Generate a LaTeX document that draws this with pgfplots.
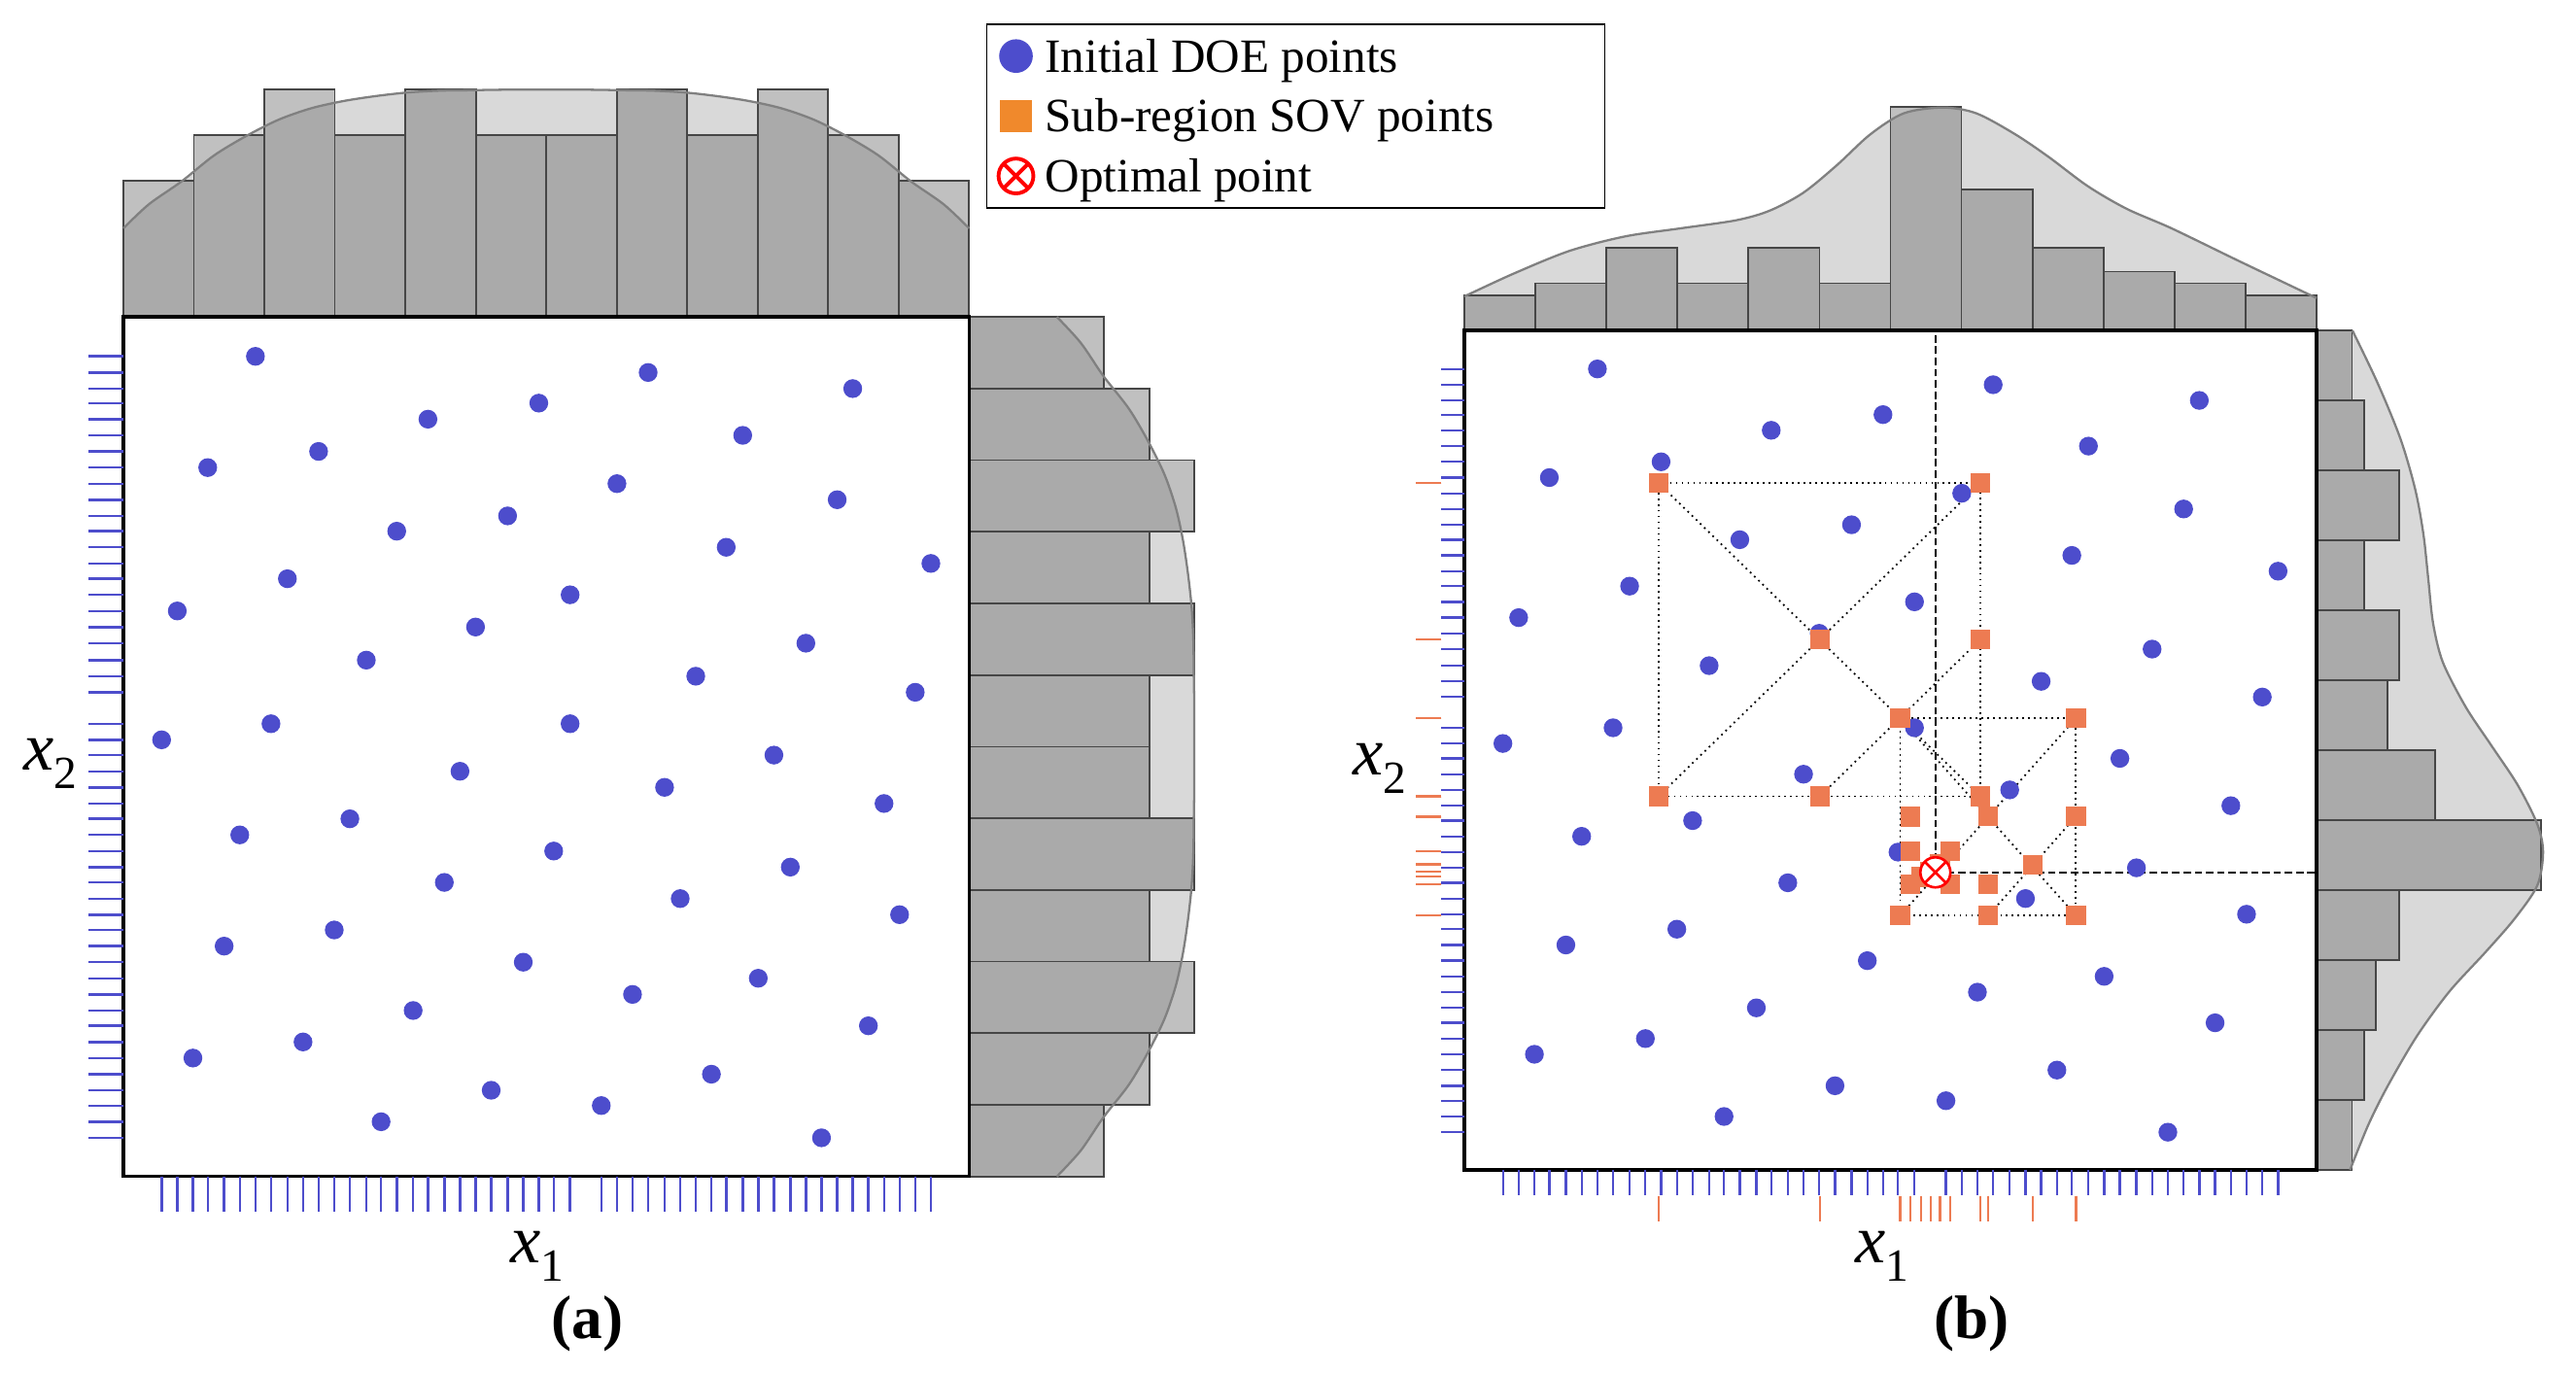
\documentclass[border=0pt]{standalone}
\usepackage{pgfplots}
\pgfplotsset{compat=1.18}
\usepackage{pgfplotstable}
\usepackage{fontspec}
\setmainfont{Liberation Serif}

\definecolor{doeblue}{RGB}{77,77,204}
\definecolor{sovorange}{RGB}{237,123,82}
\definecolor{legorange}{RGB}{240,137,44}
\definecolor{kdefill}{RGB}{217,217,217}
\definecolor{kdeline}{RGB}{128,128,128}
\definecolor{barfill}{RGB}{105,105,105}
\definecolor{baredge}{RGB}{70,70,70}

\pgfplotstableread{
u v
15.61 95.41
62.05 93.53
86.24 91.66
36.01 88.10
49.12 89.97
9.97 82.47
23.08 84.35
73.23 86.22
58.36 80.60
84.40 78.73
32.32 75.07
45.43 76.85
71.28 73.20
95.48 71.32
19.39 69.54
6.37 65.79
52.82 67.67
41.64 63.92
28.72 60.07
80.70 62.04
67.68 58.20
93.63 56.33
17.45 52.67
52.82 52.67
4.52 50.80
76.92 49.02
39.80 47.14
63.99 45.27
89.94 43.39
13.76 39.74
26.78 41.61
50.88 37.86
78.86 35.99
37.95 34.21
65.84 32.33
91.78 30.46
11.91 26.80
24.93 28.68
47.28 24.93
75.07 23.06
60.20 21.18
34.26 19.31
88.09 17.53
8.22 13.78
21.24 15.65
69.53 11.90
43.49 10.03
56.51 8.25
30.47 6.37
82.55 4.50
}\doe

\pgfplotstableread{
u v
22.77 81.83
60.57 81.83
22.77 44.50
60.57 44.50
41.71 63.22
60.57 63.22
41.71 44.50
51.14 53.81
71.76 53.81
51.14 30.30
71.76 30.30
61.49 42.11
71.76 42.11
61.49 30.30
66.67 36.34
52.34 42.09
52.34 38.00
56.98 38.00
52.34 34.03
56.98 34.03
61.49 34.03
53.57 34.92
54.69 35.57
55.80 36.40
}\sov

\pgfplotstableread{
u h
0 1.95
3.02 2.48
6.86 2.98
10.69 3.55
14.51 3.98
18.35 4.34
22.18 4.59
26.00 4.75
29.84 4.86
33.67 4.94
37.49 4.98
41.33 4.99
45.16 5.00
50 5.00
54.84 5.00
58.67 4.99
62.51 4.98
66.33 4.94
70.16 4.86
74.00 4.75
77.82 4.59
81.65 4.34
85.49 3.98
89.31 3.55
93.14 2.98
96.98 2.48
100 1.95
}\kdea

\pgfplotstableread{
u h
0 2.89
5.75 4.82
12.29 6.75
18.84 7.99
25.38 8.68
31.93 9.37
35.85 10.19
39.78 11.71
43.71 14.05
47.63 16.67
51.56 18.46
56.14 18.95
60.07 18.46
64.65 16.67
68.58 14.74
73.16 12.26
77.74 10.33
82.98 8.68
90.83 5.92
100 2.75
}\kdebtop

\pgfplotstableread{
w v
2.83 0
4.36 5.32
6.01 9.98
8.49 15.95
11.24 21.26
14.27 25.91
16.75 29.91
18.68 33.89
19.17 37.87
18.68 41.19
17.02 45.85
14.82 50.50
12.62 55.15
10.69 60.46
9.86 65.11
9.45 70.43
9.04 75.74
8.35 81.05
7.11 87.04
5.18 93.68
3.03 100
}\kdebright

\newcommand{\lgtext}[1]{\makebox[5.76cm][l]{#1}}

\begin{document}
\begin{tikzpicture}
\useasboundingbox (0,0) rectangle (26.51,-14.13);

\pgfplotsset{
  mainax/.style={scale only axis, xmin=0, xmax=100, ymin=0, ymax=100,
    xtick=\empty, ytick=\empty, axis line style={line width=1pt, black},
    clip=false, anchor=south west},
  histax/.style={scale only axis, hide axis, clip=false, anchor=south west},
  bars/.style={fill=barfill, fill opacity=0.42, draw=baredge, line width=0.5pt},
  kdef/.style={fill=kdefill, draw=none, smooth},
  kdel/.style={draw=kdeline, line width=0.65pt, smooth},
  dotl/.style={black, line width=0.5pt, dash pattern=on 0.5pt off 1.2pt, forget plot},
  dashl/.style={black, line width=0.55pt, dash pattern=on 2.2pt off 1.1pt, forget plot},
}

% ---------- (a) top histogram
\begin{axis}[histax, at={(1.27cm,-3.261cm)}, width=8.703cm, height=2.338cm,
  xmin=0, xmax=100, ymin=0, ymax=5]
\addplot[kdef] table[x=u, y=h]{\kdea} -- (axis cs:100,0) -- (axis cs:0,0) -- cycle;
\addplot[bars, ybar interval] coordinates {(0,3) (8.333,4) (16.667,5) (25,4) (33.333,5) (41.667,4) (50,4) (58.333,5) (66.667,4) (75,5) (83.333,4) (91.667,3) (100,3)};
\addplot[kdel] table[x=u, y=h]{\kdea};
\end{axis}

% ---------- (a) right histogram
\begin{axis}[histax, at={(9.973cm,-12.107cm)}, width=2.317cm, height=8.846cm,
  xmin=0, xmax=5, ymin=0, ymax=100]
\addplot[kdef] table[x=h, y=u]{\kdea} -- (axis cs:0,100) -- (axis cs:0,0) -- cycle;
\addplot[bars, xbar interval] coordinates {(3,0) (4,8.333) (5,16.667) (4,25) (5,33.333) (4,41.667) (4,50) (5,58.333) (4,66.667) (5,75) (4,83.333) (3,91.667) (3,100)};
\addplot[kdel] table[x=h, y=u]{\kdea};
\end{axis}

% ---------- (a) main
\begin{axis}[mainax, at={(1.27cm,-12.107cm)}, width=8.703cm, height=8.846cm]
\addplot[only marks, mark=*, mark size=2.55pt, doeblue] table[x=u, y=v]{\doe};
\addplot[only marks, mark=|, mark size=5.1pt, doeblue, mark options={line width=0.7pt}] table[x=u, y expr=-2.07]{\doe};
\addplot[only marks, mark=-, mark size=5.1pt, doeblue, mark options={line width=0.7pt}] table[x expr=-2.07, y=v]{\doe};
\end{axis}

% ---------- (b) top histogram
\begin{axis}[histax, at={(15.07cm,-3.40cm)}, width=8.77cm, height=2.36cm,
  xmin=0, xmax=100, ymin=0, ymax=19.5]
\addplot[kdef] table[x=u, y=h]{\kdebtop} -- (axis cs:100,0) -- (axis cs:0,0) -- cycle;
\addplot[bars, ybar interval] coordinates {(0,3) (8.333,4) (16.667,7) (25,4) (33.333,7) (41.667,4) (50,19) (58.333,12) (66.667,7) (75,5) (83.333,4) (91.667,3) (100,3)};
\addplot[kdel] table[x=u, y=h]{\kdebtop};
\end{axis}

% ---------- (b) right histogram
\begin{axis}[histax, at={(23.84cm,-12.04cm)}, width=2.432cm, height=8.64cm,
  xmin=0, xmax=20, ymin=0, ymax=100]
\addplot[kdef] table[x=w, y=v]{\kdebright} -- (axis cs:0,100) -- (axis cs:0,0) -- cycle;
\addplot[bars, xbar interval] coordinates {(3,0) (4,8.333) (5,16.667) (7,25) (19,33.333) (10,41.667) (6,50) (7,58.333) (4,66.667) (7,75) (4,83.333) (3,91.667) (3,100)};
\addplot[kdel] table[x=w, y=v]{\kdebright};
\end{axis}

% ---------- (b) main
\begin{axis}[mainax, at={(15.07cm,-12.04cm)}, width=8.77cm, height=8.64cm,
  legend style={at={(-0.5613,1.3654)}, anchor=north west, draw=black, line width=0.45pt,
    fill=white, inner xsep=0pt, inner ysep=0.5pt, row sep=0pt,
    nodes={inner sep=0pt, anchor=west, text height=0.4715cm, text depth=0.1455cm},
    font=\fontsize{14pt}{16pt}\selectfont},
  legend cell align=left,
  legend image code/.code={\path[draw=none, fill=none] (0cm,0cm) -- (0.6cm,0cm); \path[#1] plot coordinates {(0.3cm,0cm)};}]
\addlegendimage{only marks, mark=*, mark size=4.7pt, mark options={draw=doeblue, fill=doeblue}}
\addlegendentry{\lgtext{Initial DOE points}}
\addlegendimage{only marks, mark=square*, mark size=4.4pt, mark options={draw=legorange, fill=legorange}}
\addlegendentry{\lgtext{Sub-region SOV points}}
\addlegendimage{only marks, mark=otimes*, mark size=5.1pt, mark options={draw=red, fill=white, line width=1.1pt}}
\addlegendentry{\lgtext{Optimal point}}

\addplot[only marks, mark=*, mark size=2.55pt, doeblue, forget plot] table[x=u, y=v]{\doe};
% rugs
\addplot[only marks, mark=|, mark size=3.7pt, doeblue, mark options={line width=0.65pt}, forget plot] table[x=u, y expr=-1.50]{\doe};
\addplot[only marks, mark=-, mark size=3.4pt, doeblue, mark options={line width=0.65pt}, forget plot] table[x expr=-1.35, y=v]{\doe};
\addplot[only marks, mark=|, mark size=3.7pt, sovorange, mark options={line width=0.65pt}, forget plot] table[x=u, y expr=-4.59]{\sov};
\addplot[only marks, mark=-, mark size=3.8pt, sovorange, mark options={line width=0.65pt}, forget plot] table[x expr=-4.22, y=v]{\sov};
% dotted sub-region construction lines
\addplot[dotl] coordinates {(22.77,81.83) (60.57,81.83) (60.57,44.50) (22.77,44.50) (22.77,81.83)};
\addplot[dotl] coordinates {(22.77,81.83) (60.57,44.50)};
\addplot[dotl] coordinates {(60.57,81.83) (22.77,44.50)};
\addplot[dotl] coordinates {(60.57,63.22) (41.71,44.50)};
\addplot[dotl] coordinates {(51.14,53.81) (71.76,53.81) (71.76,30.30) (51.14,30.30) (51.14,53.81)};
\addplot[dotl] coordinates {(51.14,53.81) (71.76,30.30)};
\addplot[dotl] coordinates {(71.76,53.81) (51.14,30.30)};
\addplot[dotl] coordinates {(71.76,42.11) (61.49,30.30)};
% SOV points
\addplot[only marks, mark=square*, mark size=2.7pt, sovorange, forget plot] table[x=u, y=v]{\sov};
% dashed guides
\addplot[dashl] coordinates {(55.27,35.45) (55.27,100)};
\addplot[dashl] coordinates {(55.27,35.45) (100,35.45)};
% optimal
\addplot[only marks, mark=otimes*, mark size=4.4pt, mark options={draw=red, fill=white, line width=0.75pt}, forget plot] coordinates {(55.27,35.45)};
\end{axis}

% ---------- labels
\node[anchor=base west, inner sep=0pt] at (5.25,-12.993) {\fontsize{20pt}{24pt}\selectfont\textit{x}\raisebox{-0.19cm}{\fontsize{13.5pt}{16pt}\selectfont 1}};
\node[anchor=base west, inner sep=0pt] at (0.233,-7.92) {\fontsize{20pt}{24pt}\selectfont\textit{x}\raisebox{-0.197cm}{\fontsize{13.5pt}{16pt}\selectfont 2}};
\node[anchor=base west, inner sep=0pt] at (19.09,-12.993) {\fontsize{20pt}{24pt}\selectfont\textit{x}\raisebox{-0.19cm}{\fontsize{13.5pt}{16pt}\selectfont 1}};
\node[anchor=base west, inner sep=0pt] at (13.92,-7.97) {\fontsize{20pt}{24pt}\selectfont\textit{x}\raisebox{-0.197cm}{\fontsize{13.5pt}{16pt}\selectfont 2}};
\node[anchor=base west, inner sep=0pt] at (5.67,-13.77) {\fontsize{18pt}{22pt}\selectfont\bfseries (a)};
\node[anchor=base west, inner sep=0pt] at (19.90,-13.77) {\fontsize{18pt}{22pt}\selectfont\bfseries (b)};
\end{tikzpicture}
\end{document}
